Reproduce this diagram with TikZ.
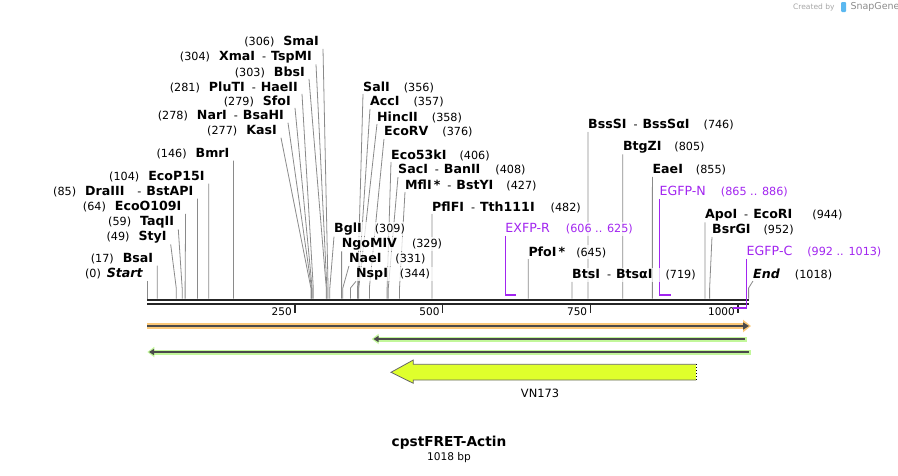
\documentclass[tikz,border=0pt]{standalone}
\usepackage{fontspec}
\setmainfont{DejaVu Sans}
\usetikzlibrary{arrows.meta}
\pgfdeclarelayer{back}
\pgfsetlayers{back,main}
\definecolor{primer}{HTML}{A225F0}
\definecolor{leader}{HTML}{8A8A8A}
\definecolor{seqbar}{HTML}{262626}
\definecolor{orangeband}{HTML}{FBC878}
\definecolor{greenband}{HTML}{C2F79A}
\definecolor{arrowcore}{HTML}{4A4A4A}
\definecolor{vnfill}{HTML}{DFFF2C}
\definecolor{logoblue}{HTML}{5BB8F0}
\newcommand*{\xStart}{147.3}
\newcommand*{\bpScale}{0.5907}
\newcommand*{\yKnee}{288}
\newcommand*{\yBar}{298.5}
\newcommand\Enz[1]{\textbf{#1}}
\newcommand\Num[1]{{\fontsize{11.2}{13}\selectfont(#1)}}
\newcommand\Dash{\hspace{7pt}{\fontsize{11.2}{13}\selectfont-}\hspace{5pt}}
\newcommand\CutLeft[5]{
	\node [cut, anchor=east, xshift=3pt] (#1) at (#3,#4) {#5};
	\coordinate (#1k) at ({\xStart+\bpScale*#2},\yKnee);
	\coordinate (#1b) at ({\xStart+\bpScale*#2},\yBar);
	\begin{pgfonlayer}{back}
		\path [draw, leader line] ([xshift=1pt]#1.south east) -- (#1k) -- (#1b);
	\end{pgfonlayer}
}
\newcommand\CutRight[5]{
	\node [cut, anchor=west, xshift=-3pt] (#1) at (#3,#4) {#5};
	\coordinate (#1k) at ({\xStart+\bpScale*#2},\yKnee);
	\coordinate (#1b) at ({\xStart+\bpScale*#2},\yBar);
	\begin{pgfonlayer}{back}
		\path [draw, leader line] ([xshift=3pt]#1.south west) -- (#1k) -- (#1b);
	\end{pgfonlayer}
}
\newcommand\PrimerTop[5]{
	\node [cut, anchor=west, xshift=-3pt, text=primer] (#1) at ({\xStart+\bpScale*#2},#4) {#5};
	\coordinate (#1h) at ({\xStart+\bpScale*#2},295);
	\coordinate (#1e) at ({\xStart+\bpScale*#3},295);
	\begin{pgfonlayer}{back}
		\path [draw, primer line] ([xshift=3pt]#1.south west) -- (#1h);
	\end{pgfonlayer}
	\path [draw, primer hook] (#1h) -- (#1e);
}

\begin{document}
\begin{tikzpicture}[x=1pt, y=-1pt,
	cut/.style={font=\fontsize{12.6}{14}\selectfont, inner xsep=3pt, inner ysep=1.2pt, fill=white, fill opacity=0.75, text opacity=1},
	leader line/.style={draw=leader, line width=0.8pt},
	primer line/.style={draw=primer, line width=1.2pt},
	primer hook/.style={draw=primer, line width=2pt},
	ticklabel/.style={font=\fontsize{10.5}{12}\selectfont, inner sep=0pt}]
	\useasboundingbox (0,0) rectangle (898,475);
	\CutLeft{smaI}{306}{319}{42}{\Num{306}\hspace{9pt}\Enz{SmaI}}
	\CutLeft{xmaI}{304}{312}{57}{\Num{304}\hspace{9pt}\Enz{XmaI}\Dash\Enz{TspMI}}
	\CutLeft{bbsI}{303}{305}{72}{\Num{303}\hspace{9pt}\Enz{BbsI}}
	\CutLeft{pluTI}{281}{298}{87}{\Num{281}\hspace{9pt}\Enz{PluTI}\Dash\Enz{HaeII}}
	\CutLeft{sfoI}{279}{291}{101}{\Num{279}\hspace{9pt}\Enz{SfoI}}
	\CutLeft{narI}{278}{284}{116}{\Num{278}\hspace{9pt}\Enz{NarI}\Dash\Enz{BsaHI}}
	\CutLeft{kasI}{277}{277}{131}{\Num{277}\hspace{9pt}\Enz{KasI}}
	\CutLeft{bmrI}{146}{229.5}{154}{\Num{146}\hspace{9pt}\Enz{BmrI}}
	\CutLeft{ecoPI}{104}{204.7}{177}{\Num{104}\hspace{9pt}\Enz{EcoP15I}}
	\CutLeft{draIII}{85}{193.5}{192}{\Num{85}\hspace{9pt}\Enz{DraIII}\hspace{6pt}\Dash\Enz{BstAPI}}
	\CutLeft{ecoOI}{64}{181.6}{207}{\Num{64}\hspace{9pt}\Enz{EcoO109I}}
	\CutLeft{taqII}{59}{174.3}{222}{\Num{59}\hspace{9pt}\Enz{TaqII}}
	\CutLeft{styI}{49}{166.7}{237}{\Num{49}\hspace{9pt}\Enz{StyI}}
	\CutLeft{bsaI}{17}{153.3}{259}{\Num{17}\hspace{9pt}\Enz{BsaI}}
	\CutLeft{seqStart}{0}{143.3}{274}{\Num{0}\hspace{6pt}\textbf{\itshape Start}}
	\CutRight{bglI}{309}{334}{229}{\Enz{BglI}\hspace{13pt}\Num{309}}
	\CutRight{ngoMIV}{329}{341.6}{244}{\Enz{NgoMIV}\hspace{15pt}\Num{329}}
	\CutRight{naeI}{331}{349}{259}{\Enz{NaeI}\hspace{14pt}\Num{331}}
	\CutRight{nspI}{344}{356}{274}{\Enz{NspI}\hspace{12pt}\Num{344}}
	\CutRight{salI}{356}{363}{87}{\Enz{SalI}\hspace{14pt}\Num{356}}
	\CutRight{accI}{357}{370}{102}{\Enz{AccI}\hspace{14pt}\Num{357}}
	\CutRight{hincII}{358}{377}{117}{\Enz{HincII}\hspace{14pt}\Num{358}}
	\CutRight{ecoRV}{376}{384}{132}{\Enz{EcoRV}\hspace{14pt}\Num{376}}
	\CutRight{ecoKI}{406}{391}{155}{\Enz{Eco53kI}\hspace{13pt}\Num{406}}
	\CutRight{sacI}{408}{398}{170}{\Enz{SacI}\Dash\Enz{BanII}\hspace{15pt}\Num{408}}
	\CutRight{mflI}{427}{405}{185}{\Enz{MflI\,*}\Dash\Enz{BstYI}\hspace{13pt}\Num{427}}
	\CutRight{pflFI}{482}{432}{207}{\Enz{PflFI}\Dash\Enz{Tth111I}\hspace{16pt}\Num{482}}
	\CutRight{pfoI}{645}{528.3}{252}{\Enz{PfoI\,*}\hspace{11pt}\Num{645}}
	\CutRight{btsI}{719}{572}{275}{\Enz{BtsI}\Dash\Enz{BtsαI}\hspace{13pt}\Num{719}}
	\CutRight{bssSI}{746}{588}{125}{\Enz{BssSI}\Dash\Enz{BssSαI}\hspace{14pt}\Num{746}}
	\CutRight{btgZI}{805}{622.8}{147}{\Enz{BtgZI}\hspace{13pt}\Num{805}}
	\CutRight{eaeI}{855}{652.4}{170}{\Enz{EaeI}\hspace{13pt}\Num{855}}
	\CutRight{apoI}{944}{704.9}{215}{\Enz{ApoI}\Dash\Enz{EcoRI}\hspace{20pt}\Num{944}}
	\CutRight{bsrGI}{952}{712}{230}{\Enz{BsrGI}\hspace{13pt}\Num{952}}
	\CutRight{seqEnd}{1018}{753}{274}{\textbf{\itshape End}\hspace{15pt}\Num{1018}}
	\PrimerTop{exfpR}{606}{625}{229}{EXFP-R\hspace{16pt}\Num{606 .. 625}}
	\PrimerTop{egfpN}{867}{886}{192}{EGFP-N\hspace{15pt}\Num{865 .. 886}}
	\path [draw, line width=2pt, seqbar] (\xStart,300) -- (748.6,300);
	\path [draw, line width=2.7pt, seqbar] (\xStart,304) -- (748.6,304);
	\foreach \t in {250,500,750,1000}
	{
		\path [draw, line width=1.6pt, seqbar] ({\xStart+\bpScale*\t},305) -- ++(0,8);
		\node [ticklabel, anchor=east] (tick\t) at ({\xStart+\bpScale*\t-3},312) {\t};
	}
	\node [cut, anchor=west, xshift=-3pt, text=primer] (egfpC) at (746.5,252) {EGFP-C\hspace{15pt}\Num{992 .. 1013}};
	\coordinate (egfpCh) at (746.5,308);
	\coordinate (egfpCe) at (733.3,308);
	\path [draw, primer line] ([xshift=3pt]egfpC.south west) -- (egfpCh);
	\path [draw, primer hook] (egfpCh) -- (egfpCe);
	\path [draw=orangeband, line width=6pt, -{Triangle[length=8pt, width=12pt]}] (\xStart,326) -- (751,326);
	\path [draw=arrowcore, line width=2pt, -{Triangle[length=6pt, width=7pt]}] (\xStart,326) -- (749,326);
	\path [draw=greenband, line width=5pt, {Triangle[length=7pt, width=10pt]}-] (371.7,339) -- (746.7,339);
	\path [draw=arrowcore, line width=2pt, {Triangle[length=5pt, width=6pt]}-] (373.5,339) -- (745,339);
	\path [draw=greenband, line width=5pt, {Triangle[length=7pt, width=10pt]}-] (147.3,352) -- (750.7,352);
	\path [draw=arrowcore, line width=2pt, {Triangle[length=5pt, width=6pt]}-] (149,352) -- (749,352);
	\path [draw=black!60, fill=vnfill, line width=0.8pt] (696,364.3) -- (413.3,364.3) -- (413.3,360) -- (391,372.3) -- (413.3,383.3) -- (413.3,380) -- (696,380);
	\path [draw=white, line width=1pt] (696,364.3) -- (696,380);
	\path [draw=black, line width=1pt, dotted] (696,364.3) -- (696,380);
	\node [font=\fontsize{11.4}{13}\selectfont] (vn) at (540,393) {VN173};
	\node [font=\fontsize{13.7}{16}\selectfont\bfseries] (title) at (449,443) {cpstFRET-Actin};
	\node [font=\fontsize{10.6}{12}\selectfont] (size) at (449,458) {1018 bp};
	\node [font=\fontsize{7.5}{9}\selectfont, text=black!35, anchor=east] (madeBy) at (838,7) {Created by};
	\path [fill=logoblue, rounded corners=1pt] (841,2) rectangle (846,12);
	\node [font=\fontsize{9.5}{11}\selectfont, text=black!45, anchor=west] (snap) at (847,7) {SnapGene};
\end{tikzpicture}
\end{document}
